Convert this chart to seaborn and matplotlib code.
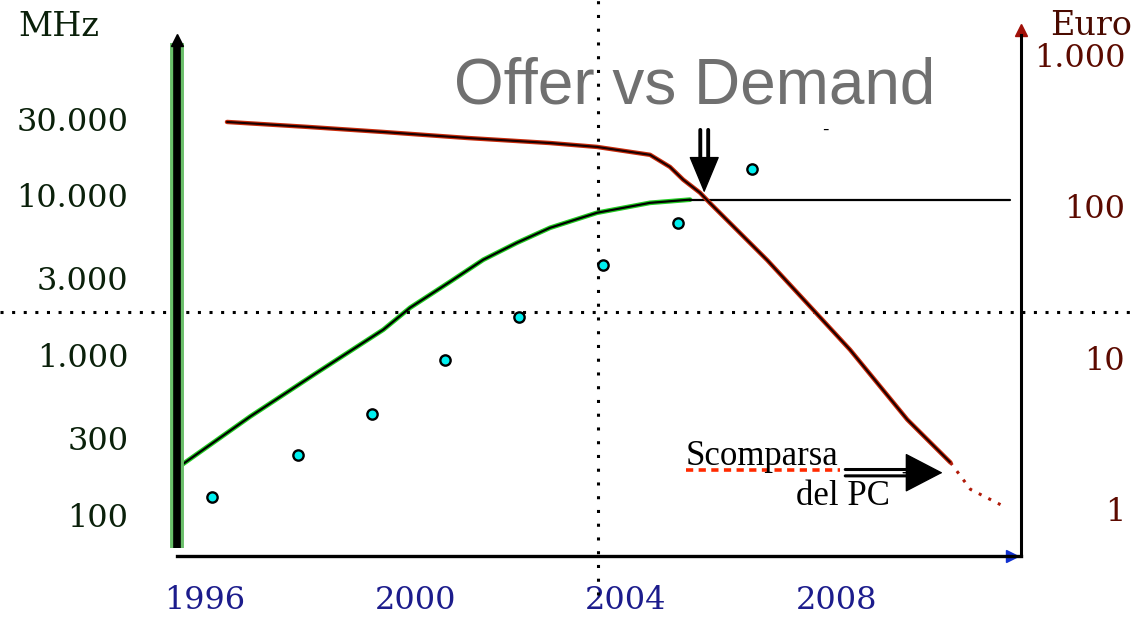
import matplotlib.pyplot as plt
import matplotlib.transforms as mtransforms
from matplotlib.ticker import NullLocator
import seaborn as sns

# offer curve (MHz, left axis)
offer_years = [1996.02, 1997.39, 1998.66, 1999.92, 2000.43, 2001.19, 2001.82,
               2002.46, 2003.09, 2003.98, 2004.99, 2005.75]
offer_mhz = [197, 410, 772, 1433, 1967, 2859, 3925, 5012, 6220, 7720, 8913, 9330]
plateau_years = [2005.75, 2011.84]
plateau_mhz = [9330, 9330]

# cyan points (MHz)
point_years = [1996.67, 1998.30, 1999.71, 2001.10, 2002.50, 2004.10, 2005.52, 2006.93]
point_mhz = [128, 234, 428, 931, 1728, 3651, 6683, 14540]

# demand / price curve (Euro, right axis)
demand_years = [1996.95, 1998.47, 1999.92, 2001.51, 2003.09, 2003.98, 2004.99,
                2005.37, 2005.62, 2005.94, 2006.13, 2007.22, 2008.79, 2009.88, 2010.70]
demand_euro = [361, 335, 310, 283, 262, 247, 219, 182, 150, 123, 105, 44, 11.3, 3.9, 2.03]
tail_years = [2010.70, 2011.08, 2011.65]
tail_euro = [2.03, 1.35, 1.07]

year_ticks = [1996, 2000, 2004, 2008]
mhz_ticks = [100, 300, 1000, 3000, 10000, 30000]
mhz_labels = ['100', '300', '1.000', '3.000', '10.000', '30.000']
euro_ticks = [1, 10, 100, 1000]
euro_labels = ['1', '10', '100', '1.000']
split_mhz = 1858  # horizontal dotted guide

sns.set_style('white')
plt.rcParams['font.family'] = ['DejaVu Serif']

W, H = 1138, 620
fig = plt.figure(figsize=(W / 100, H / 100), dpi=100)
ax = fig.add_axes([177 / W, (H - 556) / H, (1021 - 177) / W, (556 - 35) / H])
ax2 = ax.twinx()

ax.set_yscale('log')
ax2.set_yscale('log')
ax.set_xlim(1996, 2012.04)
ax.set_ylim(55, 100000)
ax2.set_ylim(0.49, 1355)

# offer curve: green fringe under black core
sns.lineplot(x=offer_years, y=offer_mhz, ax=ax, color='#22cc22', lw=3.4, sort=False, estimator=None)
sns.lineplot(x=offer_years, y=offer_mhz, ax=ax, color='black', lw=1.6, sort=False, estimator=None)
sns.lineplot(x=plateau_years, y=plateau_mhz, ax=ax, color='black', lw=1.6, sort=False, estimator=None)

sns.scatterplot(x=point_years, y=point_mhz, ax=ax, color='#00f0f0', edgecolor='black',
                s=55, linewidth=1.7, zorder=5)

# demand curve: red fringe under dark core
sns.lineplot(x=demand_years, y=demand_euro, ax=ax2, color='#c82a0a', lw=3.2, sort=False, estimator=None)
sns.lineplot(x=demand_years, y=demand_euro, ax=ax2, color='#1a0000', lw=1.5, sort=False, estimator=None)
sns.lineplot(x=tail_years, y=tail_euro, ax=ax2, color='#b01a08', lw=2.2, ls=(0, (1, 2.5)),
             sort=False, estimator=None)

# thick left bar
ax.axvline(1996, ymin=0.015, ymax=0.985, color='#6abf6a', lw=10, clip_on=False, zorder=3,
           solid_capstyle='butt')
ax.axvline(1996, ymin=0.015, ymax=0.985, color='black', lw=5.5, clip_on=False, zorder=4,
           solid_capstyle='butt')
ax.plot([0], [0.99], marker='^', ms=9, color='black', transform=ax.transAxes, clip_on=False,
        zorder=5)

# dotted guides
ax.axhline(split_mhz, xmin=-0.21, xmax=1.14, color='black', lw=2.2, ls=(0, (1, 2.8)), clip_on=False)
ax.axvline(2004, ymin=-0.075, ymax=1.07, color='black', lw=2.2, ls=(0, (1, 3.5)), clip_on=False)

# spines
for s in ['top', 'left', 'right']:
    ax.spines[s].set_visible(False)
ax.spines['bottom'].set_linewidth(2.4)
ax.spines['bottom'].set_color('black')
for s in ['top', 'left', 'bottom']:
    ax2.spines[s].set_visible(False)
ax2.spines['right'].set_linewidth(2.2)
ax2.spines['right'].set_color('black')
ax.plot([0.989], [0], marker='>', ms=9, color='#1030d0', transform=ax.transAxes, clip_on=False)
ax2.plot([1], [1.01], marker='^', ms=8, color='#a01008', transform=ax2.transAxes, clip_on=False)

# ticks
ax.set_yticks(mhz_ticks)
ax.set_yticklabels(mhz_labels)
ax.yaxis.set_minor_locator(NullLocator())
ax2.set_yticks(euro_ticks)
ax2.set_yticklabels(euro_labels)
ax2.yaxis.set_minor_locator(NullLocator())
ax.set_xticks(year_ticks)
ax.set_xticklabels([str(y) for y in year_ticks])

ax.tick_params(axis='y', length=0, pad=35, labelsize=23, labelcolor='#0a200a')
ax.tick_params(axis='x', length=0, pad=21, labelsize=23, labelcolor='#1c1c8c')
ax2.tick_params(axis='y', length=0, pad=75, labelsize=23, labelcolor='#5c0a00')
for lab in ax2.get_yticklabels():
    lab.set_ha('right')
shift = mtransforms.ScaledTranslation(0.28, 0, fig.dpi_scale_trans)
for lab in ax.get_xticklabels():
    lab.set_transform(lab.get_transform() + shift)

ax.set_xlabel('')
ax.set_ylabel('')
ax2.set_ylabel('')

# axis titles and chart title
fig.text(18 / W, 1 - 36 / H, 'MHz', fontsize=24, color='#0a200a', va='baseline')
fig.text(1050 / W, 1 - 35 / H, 'Euro', fontsize=24, color='#4a0a00', va='baseline')
fig.text(695 / W, 1 - 103 / H, 'Offer vs Demand', fontsize=46, color='#707070',
         ha='center', va='baseline', family='Liberation Sans')
fig.text(825 / W, 1 - 130 / H, '-', fontsize=14, color='black', ha='center', va='center',
         family='Liberation Sans')

# double arrow pointing at the crossing
for dx in [-0.075, 0.075]:
    ax2.annotate('', xy=(2006.02 + dx, 178), xytext=(2006.02 + dx, 320),
                 arrowprops=dict(arrowstyle='-', lw=2.8, color='black', shrinkA=0, shrinkB=0))
ax2.annotate('', xy=(2006.02, 123), xytext=(2006.02, 185),
             arrowprops=dict(arrowstyle='-|>,head_length=2.4,head_width=1.0', lw=1, color='black',
                             shrinkA=0, shrinkB=0))

# "Scomparsa del PC" note
fig.text(686 / W, 1 - 465 / H, 'Scomparsa', fontsize=25, color='black', family='Liberation Serif',
         va='baseline')
fig.text(890 / W, 1 - 505 / H, 'del PC', fontsize=25, color='black', family='Liberation Serif',
         va='baseline', ha='right')
fig.add_artist(plt.Line2D([686 / W, 840 / W], [1 - 470 / H, 1 - 470 / H], color='#ff2a00',
                          lw=2.6, ls=(0, (2, 1.5))))
for dy in [-0.021, 0.021]:
    ax2.annotate('', xy=(2009.9, 1.74 * 10 ** dy), xytext=(2008.7, 1.74 * 10 ** dy),
                 arrowprops=dict(arrowstyle='-', lw=2.2, color='black', shrinkA=0, shrinkB=0))
ax2.annotate('', xy=(2010.55, 1.74), xytext=(2009.8, 1.74),
             arrowprops=dict(arrowstyle='-|>,head_length=2.5,head_width=1.3', lw=1, color='black',
                             shrinkA=0, shrinkB=0))

fig.savefig('out.png', dpi=100)
